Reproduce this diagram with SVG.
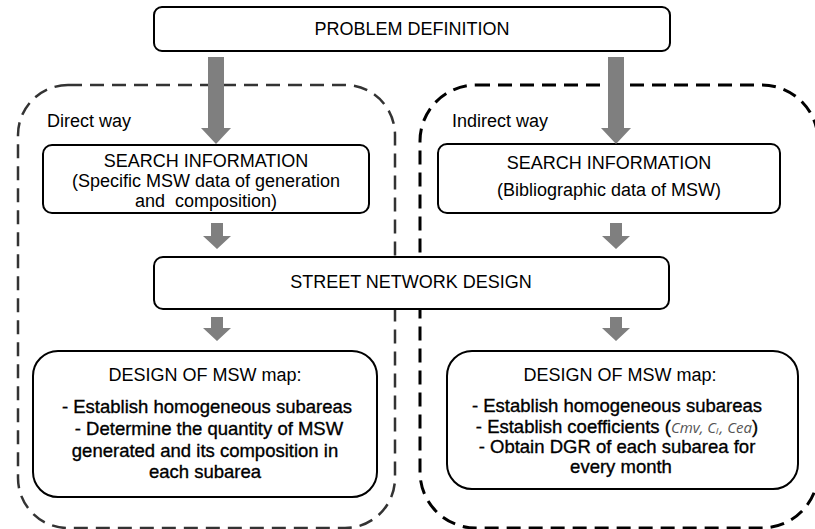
<svg xmlns="http://www.w3.org/2000/svg" width="815" height="529" viewBox="0 0 815 529">
<style>
  .box { fill: #fff; stroke: #000; stroke-width: 2; }
  .region { fill: none; stroke-dasharray: 14 8; }
  .t { font-family: "Liberation Sans", Arial, sans-serif; font-size: 18px; fill: #000; text-anchor: middle; }
  .b { stroke: #000; stroke-width: 0.35; font-size: 18.5px; }
  .lbl { font-family: "Liberation Sans", Arial, sans-serif; font-size: 18px; fill: #000; }
  .it { font-family: "Open Sans", "DejaVu Sans", sans-serif; font-style: italic; font-size: 15px; fill: #555; stroke: none; }
  .arr { fill: #7f7f7f; stroke: none; }
</style>
<rect width="815" height="529" fill="#fff"/>

<g id="region-direct">
  <path class="region" stroke="#333" stroke-width="2.5" d="M 68 85 H 345 A 50 50 0 0 1 395 135 V 478 A 50 50 0 0 1 345 528 H 68 A 50 50 0 0 1 18 478 V 135 A 50 50 0 0 1 68 85 Z"/>
  <text class="lbl" x="47" y="127">Direct way</text>
</g>
<g id="region-indirect">
  <path class="region" stroke="#000" stroke-width="3" d="M 476 85 H 762 A 56 56 0 0 1 818 141 V 472 A 56 56 0 0 1 762 528 H 476 A 56 56 0 0 1 420 472 V 141 A 56 56 0 0 1 476 85 Z"/>
  <text class="lbl" x="452" y="127">Indirect way</text>
</g>

<g id="problem">
  <rect class="box" x="154" y="7" width="516" height="44" rx="8"/>
  <text class="t" x="412" y="35">PROBLEM DEFINITION</text>
</g>

<g id="search-direct">
  <rect class="box" x="43" y="145" width="326" height="68" rx="9"/>
  <text class="t" x="206" y="167">SEARCH INFORMATION</text>
  <text class="t" x="206" y="187">(Specific MSW data of generation</text>
  <text class="t" x="206" y="207" xml:space="preserve">and  composition)</text>
</g>

<g id="search-indirect">
  <rect class="box" x="438" y="144" width="342" height="69" rx="9"/>
  <text class="t" x="609" y="169">SEARCH INFORMATION</text>
  <text class="t" x="609" y="196">(Bibliographic data of MSW)</text>
</g>

<g id="street">
  <rect class="box" x="154" y="257" width="515" height="52" rx="9"/>
  <text class="t" x="411" y="288">STREET NETWORK DESIGN</text>
</g>

<g id="map-direct">
  <rect class="box" x="33" y="351" width="344" height="146" rx="25"/>
  <text class="t" x="205" y="381">DESIGN OF MSW map:</text>
  <text class="t b" x="207" y="413">- Establish homogeneous subareas</text>
  <text class="t b" x="209" y="435">- Determine the quantity of MSW</text>
  <text class="t b" x="205" y="457">generated and its composition in</text>
  <text class="t b" x="205" y="478">each subarea</text>
</g>

<g id="map-indirect">
  <rect class="box" x="447" y="351" width="351" height="138" rx="25"/>
  <text class="t" x="620" y="381">DESIGN OF MSW map:</text>
  <text class="t b" x="617" y="412">- Establish homogeneous subareas</text>
  <text class="t b" x="617" y="433">- Establish coefficients (<tspan class="it">Cmv, Cₗ, Cea</tspan>)</text>
  <text class="t b" x="617" y="453">- Obtain DGR of each subarea for</text>
  <text class="t b" x="621" y="473">every month</text>
</g>

<g id="connectors">
  <path class="arr" d="M 208 57 H 224 V 128 H 231 L 216 144 L 201 128 H 208 Z"/>
  <path class="arr" d="M 608 57 H 624 V 128 H 631 L 616 144 L 601 128 H 608 Z"/>
  <path class="arr" d="M 211 223 H 223 V 236 H 231 L 217 249 L 203 236 H 211 Z"/>
  <path class="arr" d="M 610 223 H 622 V 236 H 630 L 616 249 L 602 236 H 610 Z"/>
  <path class="arr" d="M 211 317 H 223 V 328 H 231 L 217 341 L 203 328 H 211 Z"/>
  <path class="arr" d="M 610 317 H 622 V 328 H 630 L 616 341 L 602 328 H 610 Z"/>
</g>
</svg>
